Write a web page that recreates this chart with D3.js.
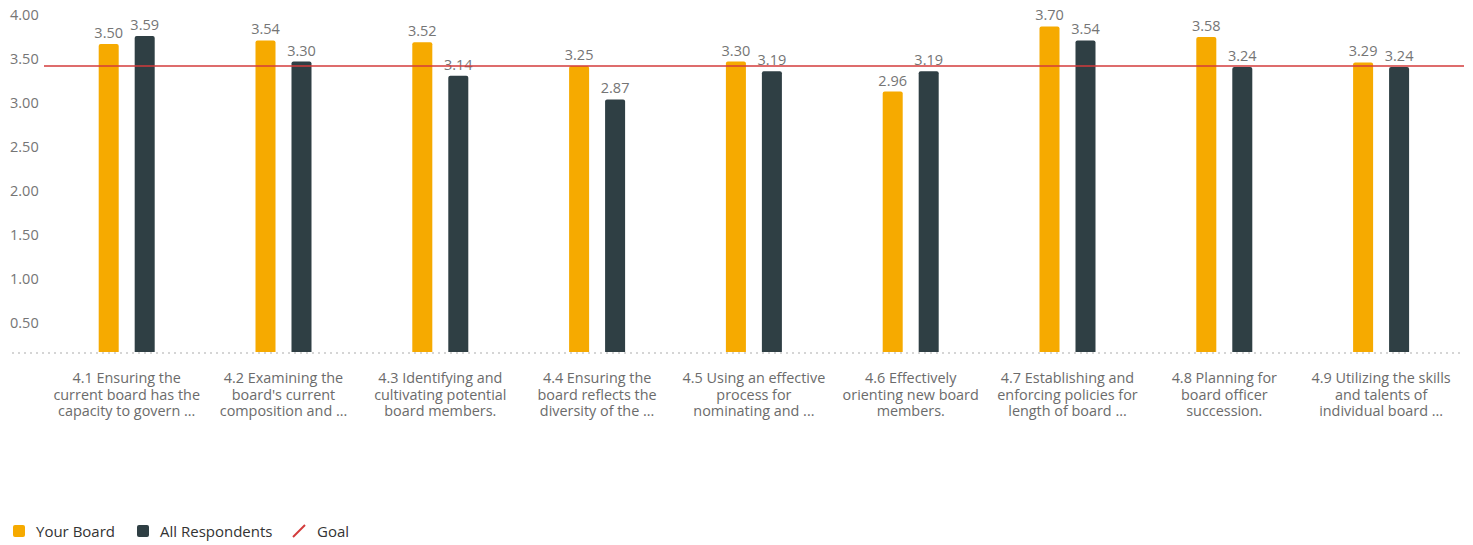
<!DOCTYPE html>
<html>
<head>
<meta charset="utf-8">
<script src="https://cdn.jsdelivr.net/npm/d3@7"></script>
<style>
  body { margin: 0; background: #fff; }
  svg { font-family: "Open Sans", sans-serif; }
</style>
</head>
<body>
<div id="chart"></div>
<script>
const categories = [
  ['4.1 Ensuring the', 'current board has the', 'capacity to govern ...'],
  ['4.2 Examining the', "board's current", 'composition and ...'],
  ['4.3 Identifying and', 'cultivating potential', 'board members.'],
  ['4.4 Ensuring the', 'board reflects the', 'diversity of the ...'],
  ['4.5 Using an effective', 'process for', 'nominating and ...'],
  ['4.6 Effectively', 'orienting new board', 'members.'],
  ['4.7 Establishing and', 'enforcing policies for', 'length of board ...'],
  ['4.8 Planning for', 'board officer', 'succession.'],
  ['4.9 Utilizing the skills', 'and talents of', 'individual board ...']
];
const yourBoard = [3.50, 3.54, 3.52, 3.25, 3.30, 2.96, 3.70, 3.58, 3.29];
const allRespondents = [3.59, 3.30, 3.14, 2.87, 3.19, 3.19, 3.54, 3.24, 3.24];
const goal = 3.25;
const yTicks = [0.5, 1, 1.5, 2, 2.5, 3, 3.5, 4];
const seriesNames = ['Your Board', 'All Respondents'];
const colors = { 'Your Board': '#f6aa00', 'All Respondents': '#2f3f44' };

const width = 1473, height = 545;
const svg = d3.select('#chart').append('svg')
  .attr('width', width)
  .attr('height', height);

const x0 = d3.scaleBand()
  .domain(d3.range(categories.length))
  .range([48.3, 1459.5]);
const x1 = d3.scaleBand()
  .domain(seriesNames)
  .range([0, 56])
  .paddingInner(0.444);
const y = d3.scaleLinear().domain([0, 4]).range([352, 0]);

// y tick labels (drawn under their value)
svg.append('g').selectAll('text')
  .data(yTicks)
  .enter().append('text')
  .attr('x', 10)
  .attr('y', d => y(d) + 20)
  .attr('fill', '#757575')
  .style('font-size', '14.5px')
  .text(d => d.toFixed(2));

// dotted baseline
svg.append('line')
  .attr('x1', 12).attr('x2', 1463)
  .attr('y1', y(0) + 1).attr('y2', y(0) + 1)
  .attr('stroke', '#d5d5d5')
  .attr('stroke-width', 2)
  .attr('stroke-dasharray', '2,4');

const rows = categories.map((c, i) => [
  { s: 'Your Board', v: yourBoard[i] },
  { s: 'All Respondents', v: allRespondents[i] }
]);

const groups = svg.append('g').selectAll('g')
  .data(rows)
  .enter().append('g')
  .attr('transform', (d, i) => 'translate(' + (x0(i) + x0.bandwidth() / 2 - 28) + ',0)');

groups.selectAll('path')
  .data(d => d)
  .enter().append('path')
  .attr('fill', d => colors[d.s])
  .attr('d', d => {
    const bx = x1(d.s), w = x1.bandwidth(), top = y(d.v), bottom = y(0), r = 2;
    return 'M' + bx + ',' + bottom + 'V' + (top + r) +
      'Q' + bx + ',' + top + ' ' + (bx + r) + ',' + top +
      'H' + (bx + w - r) +
      'Q' + (bx + w) + ',' + top + ' ' + (bx + w) + ',' + (top + r) +
      'V' + bottom + 'Z';
  });

groups.selectAll('text')
  .data(d => d)
  .enter().append('text')
  .attr('x', d => x1(d.s) + x1.bandwidth() / 2)
  .attr('y', d => y(d.v) - 6)
  .attr('text-anchor', 'middle')
  .attr('fill', '#757575')
  .style('font-size', '14.5px')
  .text(d => d.v.toFixed(2));

// goal line
svg.append('line')
  .attr('x1', 44).attr('x2', 1464)
  .attr('y1', y(goal)).attr('y2', y(goal))
  .attr('stroke', '#d33b3b')
  .attr('stroke-width', 1.3);

// category labels
const cat = svg.append('g').selectAll('text')
  .data(categories)
  .enter().append('text')
  .attr('text-anchor', 'middle')
  .attr('fill', '#6b6b6b')
  .style('font-size', '14.4px')
  .attr('transform', (d, i) => 'translate(' + (x0(i) + x0.bandwidth() / 2) + ',383)');
cat.selectAll('tspan')
  .data(d => d)
  .enter().append('tspan')
  .attr('x', 0)
  .attr('y', (d, i) => i * 16.5)
  .text(d => d);

// legend
const legend = svg.append('g').attr('transform', 'translate(13,525)');
const items = [
  { name: 'Your Board', x: 0 },
  { name: 'All Respondents', x: 124 },
  { name: 'Goal', x: 280 }
];
items.forEach(it => {
  const g = legend.append('g').attr('transform', 'translate(' + it.x + ',0)');
  if (it.name === 'Goal') {
    g.append('line')
      .attr('x1', 0).attr('y1', 12).attr('x2', 12).attr('y2', 0)
      .attr('stroke', '#d33b3b').attr('stroke-width', 2);
  } else {
    g.append('rect')
      .attr('width', 12).attr('height', 12).attr('rx', 2)
      .attr('fill', colors[it.name]);
  }
  g.append('text')
    .attr('x', it.name === 'Goal' ? 24 : 23)
    .attr('y', 12)
    .attr('fill', '#333')
    .style('font-size', '15px')
    .text(it.name);
});
</script>
</body>
</html>
